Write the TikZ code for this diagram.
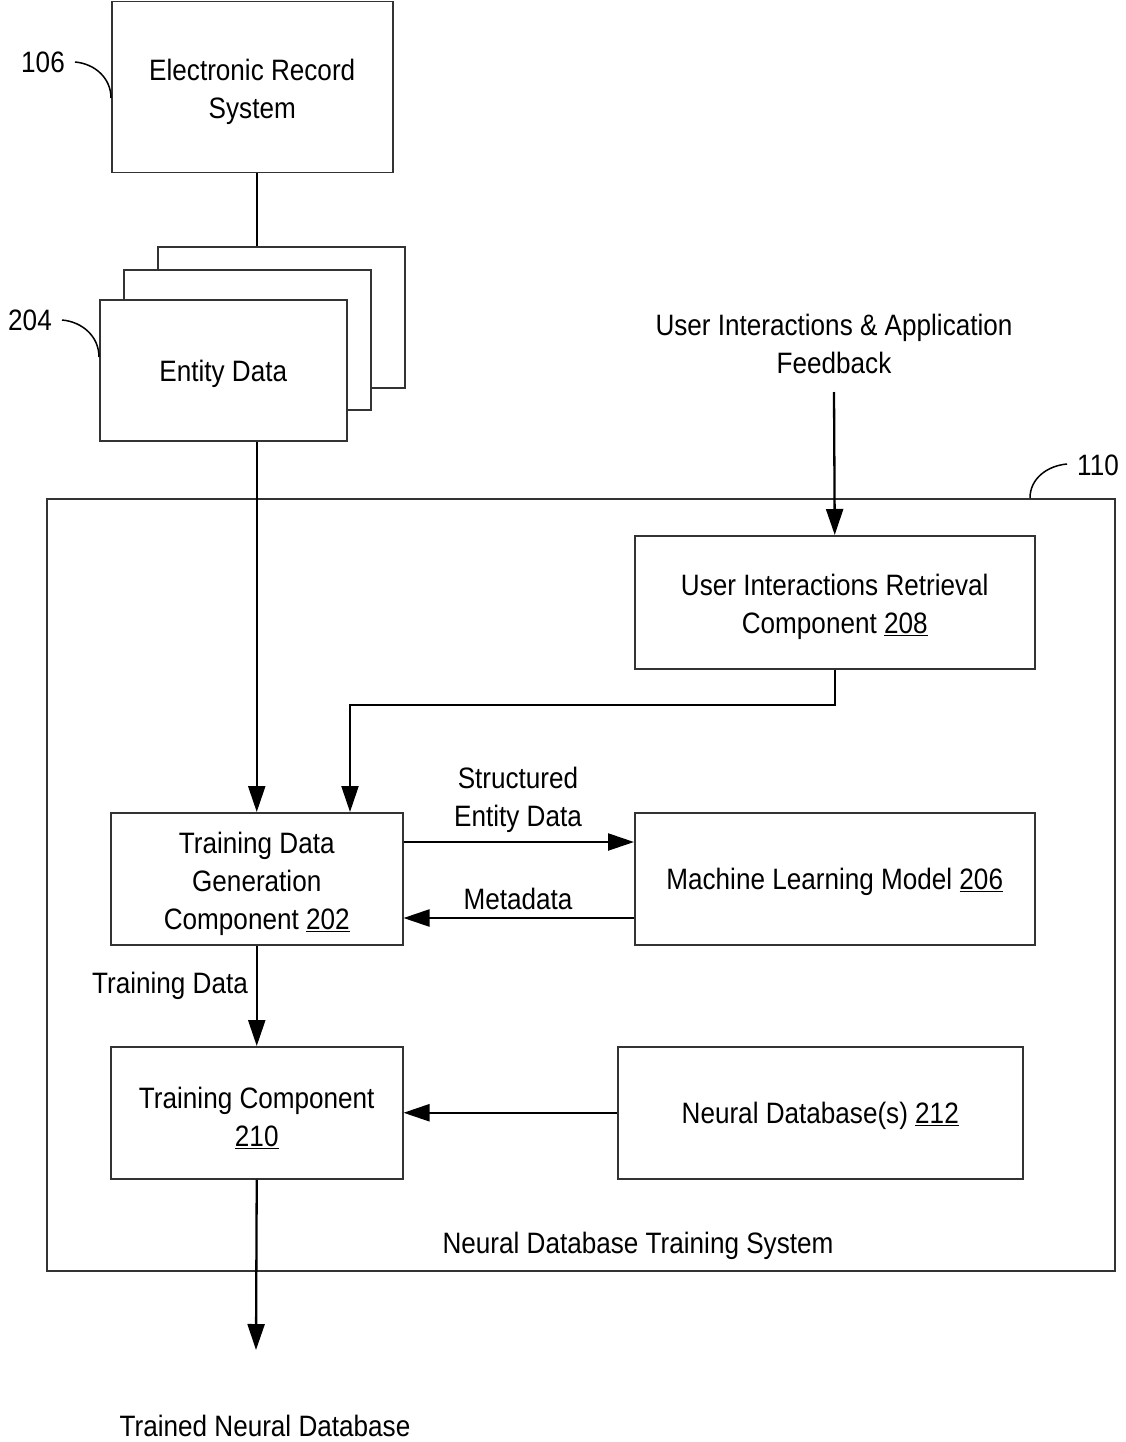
\documentclass[tikz,border=0pt]{standalone}
\usepackage{fontspec}
\setmainfont[FakeStretch=0.885]{Liberation Sans}
\usetikzlibrary{arrows.meta}
\newcommand{\firstln}{\rule{0pt}{31pt}}
\begin{document}
\begin{tikzpicture}[x=1pt,y=-1pt,
  every node/.style={font=\fontsize{29.5}{38}\selectfont, inner sep=0pt},
  lowered/.style={execute at begin node={\rule{0pt}{28.5pt}}},
  blk/.style 2 args={draw=black!80, line width=1.5pt, fill=white, align=center,
    minimum width=#1pt, minimum height=#2pt, lowered},
  conn/.style={line width=2.3pt, black},
  arr/.style={conn, -{Triangle[length=26pt,width=17pt]}},
  lead/.style={line width=1.5pt, black},
  txt/.style={align=center, lowered}
]
\useasboundingbox (0,0) rectangle (1126,1442);

% outer system box
\node[blk={1068}{772}, anchor=north west] (sys) at (46,498) {};
\node[txt] (syslabel) at (638,1242) {Neural Database Training System};

% top
\node[blk={281}{171}, anchor=north west] (ers) at (111,1) {\firstln Electronic Record\\System};
\node[blk={247}{141}, anchor=north west] (ed3) at (157,246) {};
\node[blk={247}{140}, anchor=north west] (ed2) at (123,269) {};
\node[blk={247}{141}, anchor=north west] (ed) at (99,299) {Entity Data};

% reference labels
\node (l106) at (43,62) {106};
\node (l204) at (30,320) {204};
\node (l110) at (1098,465) {110};
\draw[lead] (75,62) to[out=-5,in=90] (111,98);
\draw[lead] (62,320) to[out=-5,in=90] (99,357);
\draw[lead] (1067,464) to[out=185,in=90] (1030,498);

% inner components
\node[txt] (ui) at (834,344) {User Interactions \& Application\\Feedback};
\coordinate (uistart) at (834,392);
\node[blk={400}{133}, anchor=north west] (uir) at (634,535) {\firstln User Interactions Retrieval\\Component \underline{208}};
\node[blk={292}{132}, anchor=north west] (tdg) at (110,812) {\firstln Training Data\\Generation\\Component \underline{202}};
\node[blk={400}{132}, anchor=north west] (ml) at (634,812) {Machine Learning Model \underline{206}};
\node[blk={292}{132}, anchor=north west] (tc) at (110,1046) {\firstln Training Component\\\underline{210}};
\node[blk={405}{132}, anchor=north west] (nd) at (617,1046) {Neural Database(s) \underline{212}};

% connector labels
\node[txt] (sedl) at (518,795) {\firstln Structured\\Entity Data};
\node[txt] (metal) at (518,895) {Metadata};
\node[txt] (tdl) at (170,982) {Training Data};
\node[txt] (tndb) at (265,1422) {Trained Neural Database};

% helper coordinates
\coordinate (e1) at (350,705);
\coordinate (ya) at (0,842);
\coordinate (yb) at (0,918);
\coordinate (outend) at (256,1350);

% connectors
\draw[conn] (tdg.north |- ers.south) -- (tdg.north |- ed3.north);
\draw[arr] (tdg.north |- ed.south) -- (tdg.north);
\draw[arr] (uistart) -- (uir.north);
\draw[arr] (uir.south) |- (e1) -- (e1 |- tdg.north);
\draw[arr] (tdg.east |- ya) -- (ml.west |- ya);
\draw[arr] (ml.west |- yb) -- (tdg.east |- yb);
\draw[arr] (tdg.south) -- (tc.north);
\draw[arr] (nd.west) -- (tc.east);
\draw[arr] (tc.south) -- (outend);
\end{tikzpicture}
\end{document}
